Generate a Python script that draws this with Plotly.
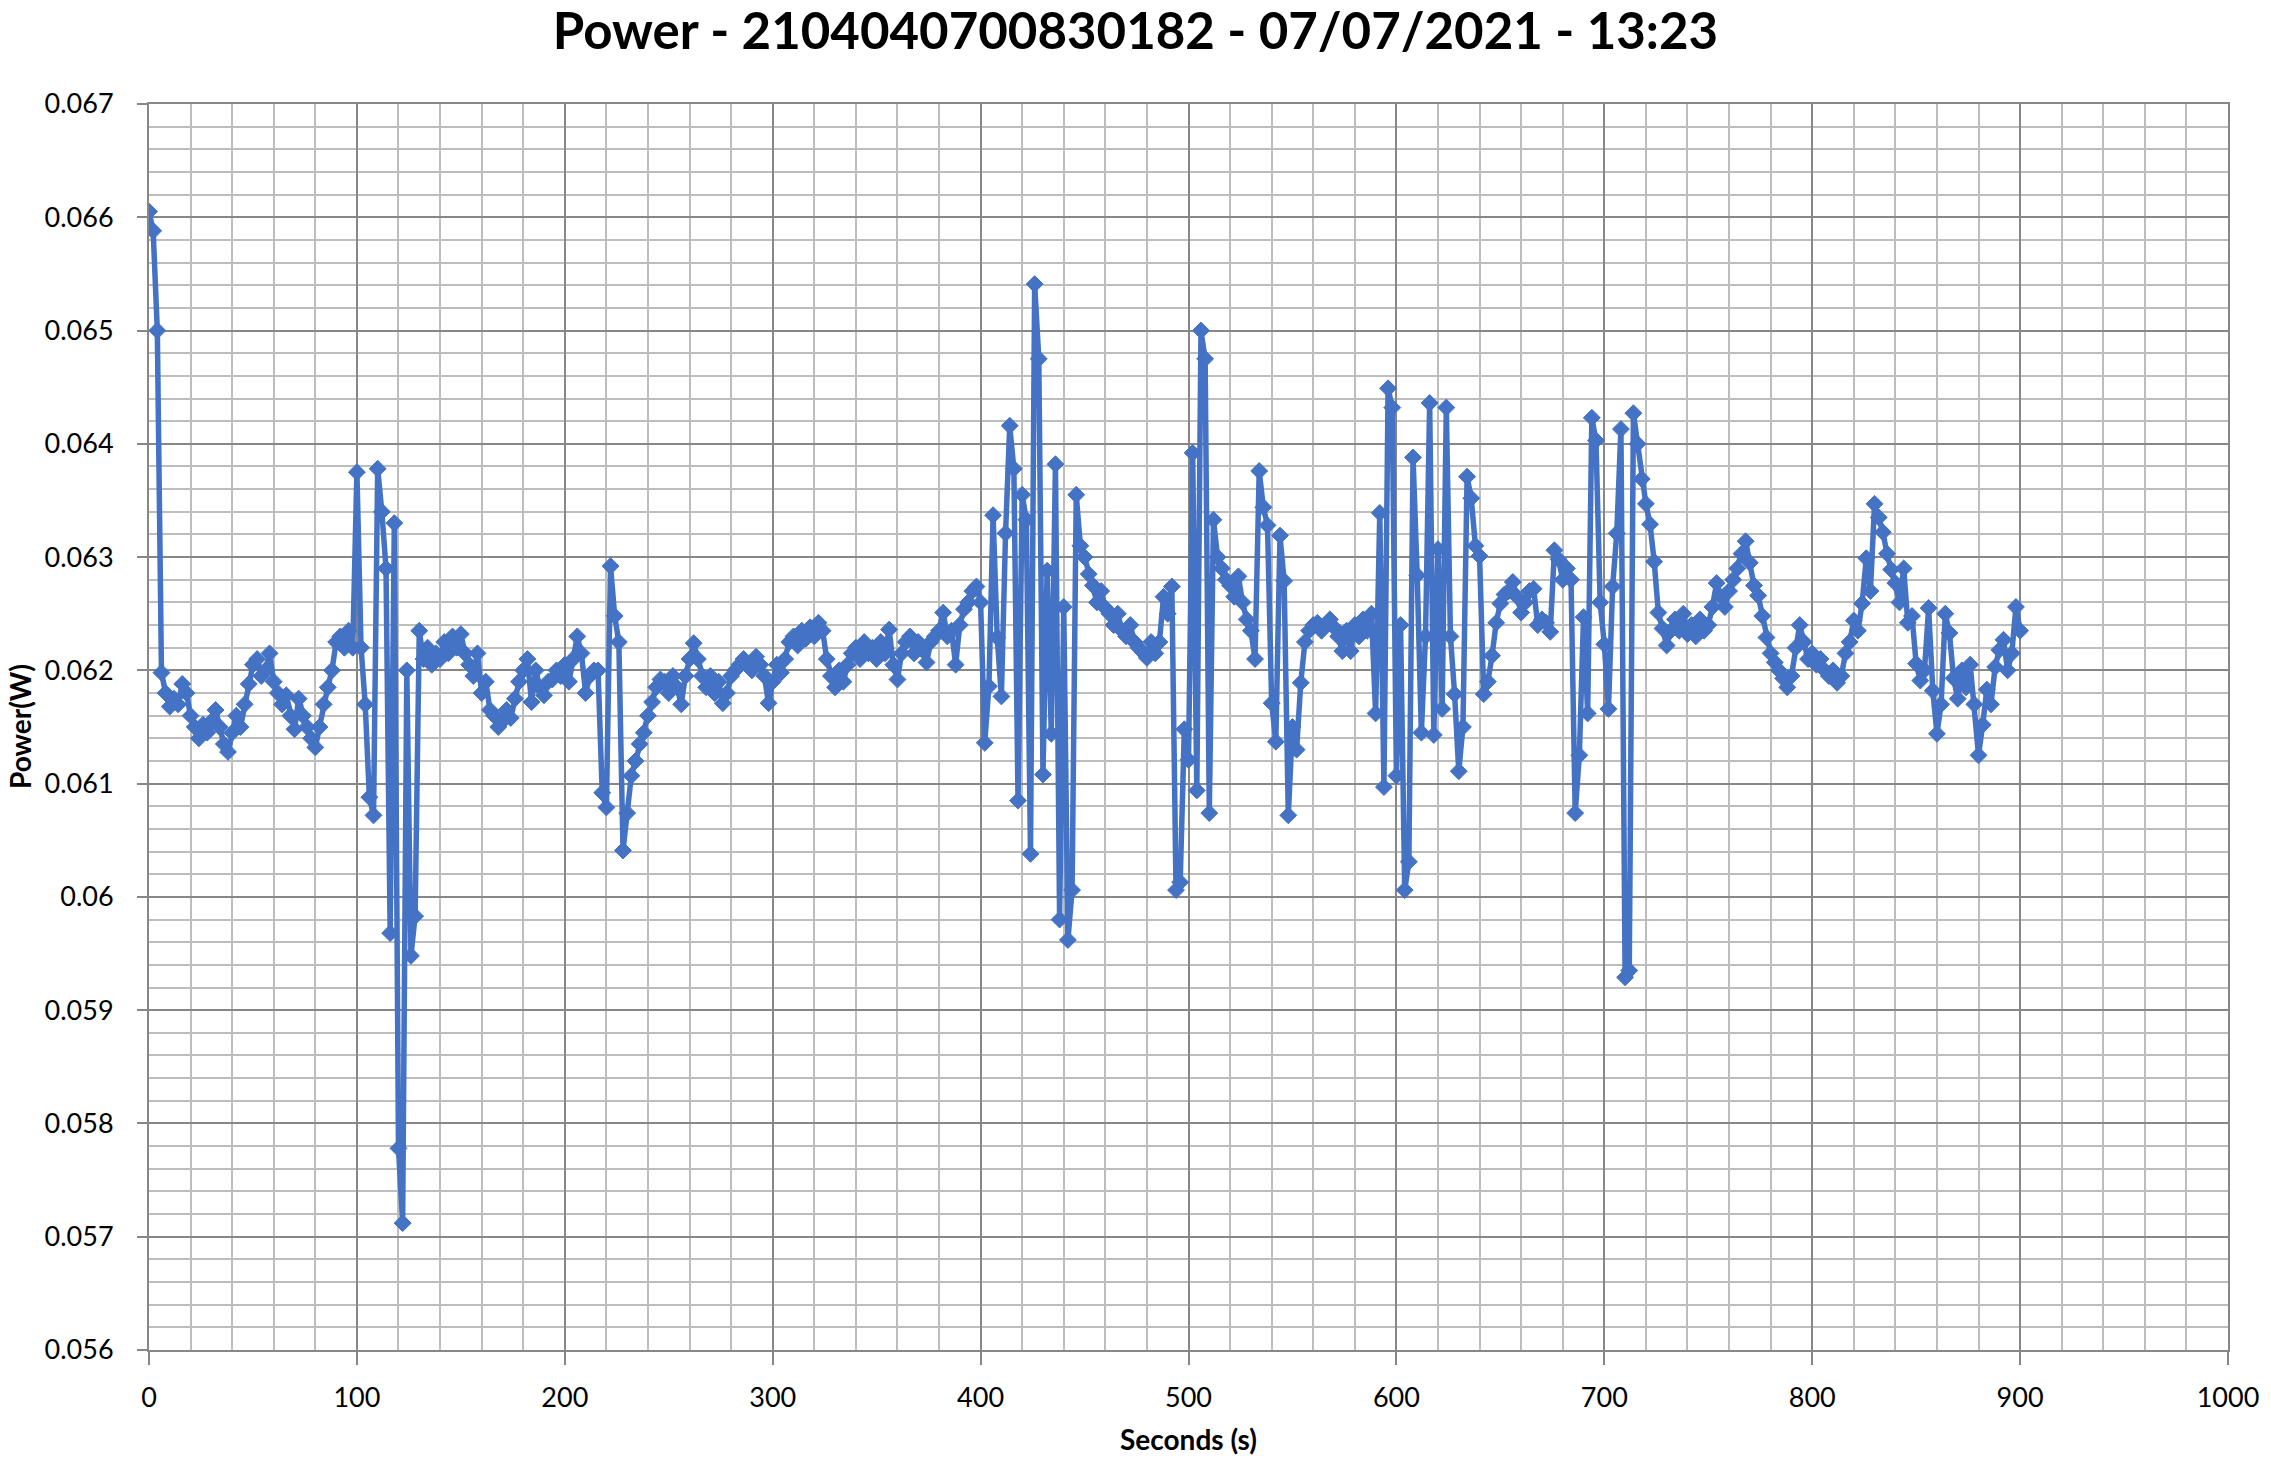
import plotly.graph_objects as go

seconds = list(range(0, 901, 2))

power_w = [
    0.06605, 0.06588, 0.06500, 0.06198, 0.06180, 0.06168, 0.06175, 0.06170, 0.06188, 0.06180,
    0.06160, 0.06150, 0.06140, 0.06152, 0.06145, 0.06155, 0.06165, 0.06150, 0.06135, 0.06128,
    0.06145, 0.06160, 0.06150, 0.06170, 0.06188, 0.06205, 0.06210, 0.06195, 0.06200, 0.06215,
    0.06190, 0.06180, 0.06170, 0.06178, 0.06160, 0.06148, 0.06175, 0.06160, 0.06150, 0.06140,
    0.06132, 0.06150, 0.06170, 0.06185, 0.06200, 0.06225, 0.06230, 0.06220, 0.06235, 0.06220,
    0.06375, 0.06220, 0.06170, 0.06088, 0.06072, 0.06378, 0.06340, 0.06290, 0.05968, 0.06330,
    0.05778, 0.05712, 0.06200, 0.05948, 0.05983, 0.06235, 0.06210, 0.06220, 0.06205, 0.06215,
    0.06210, 0.06225, 0.06215, 0.06230, 0.06220, 0.06232, 0.06215, 0.06205, 0.06195, 0.06215,
    0.06180, 0.06190, 0.06165, 0.06160, 0.06150, 0.06155, 0.06165, 0.06158, 0.06175, 0.06190,
    0.06200, 0.06210, 0.06172, 0.06200, 0.06185, 0.06178, 0.06190, 0.06192, 0.06200, 0.06195,
    0.06205, 0.06190, 0.06210, 0.06230, 0.06215, 0.06180, 0.06195, 0.06200, 0.06200, 0.06092,
    0.06079, 0.06292, 0.06248, 0.06225, 0.06041, 0.06074, 0.06107, 0.06120, 0.06135, 0.06145,
    0.06160, 0.06172, 0.06185, 0.06192, 0.06190, 0.06180, 0.06195, 0.06185, 0.06170, 0.06195,
    0.06210, 0.06224, 0.06210, 0.06195, 0.06185, 0.06195, 0.06180, 0.06190, 0.06171, 0.06180,
    0.06195, 0.06200, 0.06205, 0.06210, 0.06205, 0.06200, 0.06212, 0.06205, 0.06195, 0.06171,
    0.06190, 0.06205, 0.06198, 0.06210, 0.06225, 0.06230, 0.06222, 0.06235, 0.06228, 0.06238,
    0.06230, 0.06242, 0.06235, 0.06210, 0.06195, 0.06185, 0.06200, 0.06190, 0.06205, 0.06215,
    0.06220, 0.06210, 0.06225, 0.06215, 0.06220, 0.06210, 0.06225, 0.06215, 0.06236, 0.06205,
    0.06192, 0.06215, 0.06225, 0.06230, 0.06215, 0.06225, 0.06218, 0.06207, 0.06225, 0.06230,
    0.06235, 0.06251, 0.06230, 0.06235, 0.06205, 0.06240, 0.06254, 0.06260, 0.06270, 0.06274,
    0.06260, 0.06136, 0.06186, 0.06337, 0.06229, 0.06177, 0.06321, 0.06416, 0.06378, 0.06085,
    0.06355, 0.06333, 0.06038, 0.06541, 0.06475, 0.06108, 0.06288, 0.06144, 0.06382, 0.05980,
    0.06256, 0.05962, 0.06006, 0.06355, 0.06310, 0.06300, 0.06285, 0.06275, 0.06260, 0.06270,
    0.06255, 0.06250, 0.06240, 0.06250, 0.06235, 0.06230, 0.06240, 0.06225, 0.06220, 0.06216,
    0.06211, 0.06225, 0.06215, 0.06225, 0.06265, 0.06250, 0.06274, 0.06006, 0.06013, 0.06148,
    0.06121, 0.06392, 0.06094, 0.06500, 0.06475, 0.06074, 0.06333, 0.06300, 0.06290, 0.06280,
    0.06275, 0.06265, 0.06283, 0.06260, 0.06245, 0.06235, 0.06210, 0.06376, 0.06344, 0.06328,
    0.06171, 0.06137, 0.06319, 0.06279, 0.06072, 0.06150, 0.06130, 0.06189, 0.06225, 0.06235,
    0.06240, 0.06242, 0.06235, 0.06240, 0.06245, 0.06238, 0.06230, 0.06217, 0.06235, 0.06217,
    0.06240, 0.06230, 0.06245, 0.06235, 0.06250, 0.06162, 0.06339, 0.06097, 0.06449, 0.06432,
    0.06107, 0.06240, 0.06006, 0.06031, 0.06388, 0.06284, 0.06145, 0.06230, 0.06436, 0.06143,
    0.06307, 0.06166, 0.06432, 0.06230, 0.06179, 0.06111, 0.06150, 0.06371, 0.06352, 0.06310,
    0.06301, 0.06179, 0.06190, 0.06213, 0.06242, 0.06259, 0.06267, 0.06270, 0.06278, 0.06265,
    0.06251, 0.06260, 0.06270, 0.06272, 0.06240, 0.06245, 0.06242, 0.06234, 0.06306, 0.06298,
    0.06280, 0.06290, 0.06280, 0.06074, 0.06125, 0.06247, 0.06162, 0.06423, 0.06403, 0.06260,
    0.06223, 0.06166, 0.06274, 0.06321, 0.06413, 0.05929, 0.05935, 0.06427, 0.06400, 0.06369,
    0.06347, 0.06329, 0.06296, 0.06251, 0.06237, 0.06222, 0.06235, 0.06245, 0.06235, 0.06250,
    0.06232, 0.06240, 0.06230, 0.06245, 0.06235, 0.06240, 0.06256, 0.06277, 0.06265, 0.06256,
    0.06270, 0.06280, 0.06290, 0.06303, 0.06314, 0.06295, 0.06275, 0.06266, 0.06248, 0.06229,
    0.06215, 0.06207, 0.06200, 0.06193, 0.06185, 0.06195, 0.06220, 0.06240, 0.06225, 0.06210,
    0.06215, 0.06205, 0.06210, 0.06200, 0.06195, 0.06200, 0.06189, 0.06195, 0.06215, 0.06225,
    0.06244, 0.06235, 0.06259, 0.06299, 0.06270, 0.06347, 0.06335, 0.06322, 0.06303, 0.06289,
    0.06277, 0.06260, 0.06290, 0.06242, 0.06248, 0.06206, 0.06191, 0.06200, 0.06255, 0.06182,
    0.06144, 0.06170, 0.06250, 0.06233, 0.06193, 0.06175, 0.06200, 0.06185, 0.06205, 0.06170,
    0.06125, 0.06152, 0.06183, 0.06170, 0.06203, 0.06218, 0.06227, 0.06200, 0.06215, 0.06256,
    0.06235,
]

x_tick_values = [0, 100, 200, 300, 400, 500, 600, 700, 800, 900, 1000]
y_tick_values = [0.056, 0.057, 0.058, 0.059, 0.060, 0.061, 0.062,
                 0.063, 0.064, 0.065, 0.066, 0.067]
y_tick_labels = ["0.056", "0.057", "0.058", "0.059", "0.06", "0.061", "0.062",
                 "0.063", "0.064", "0.065", "0.066", "0.067"]

title_text = "Power - 2104040700830182 - 07/07/2021 - 13:23"
x_title = "Seconds (s)"
y_title = "Power(W)"

BLUE = "#4472C4"
MAJOR = "#878787"
MINOR = "#bdbdbd"
FONT = "Lato"

fig = go.Figure(
    go.Scatter(
        x=seconds,
        y=power_w,
        mode="lines+markers",
        line=dict(color=BLUE, width=5.5),
        marker=dict(symbol="diamond", size=13, color=BLUE,
                    line=dict(color=BLUE, width=1)),
        showlegend=False,
    )
)

fig.update_layout(
    width=2271,
    height=1462,
    autosize=False,
    margin=dict(l=149, r=39, t=104, b=112),
    paper_bgcolor="white",
    plot_bgcolor="white",
    title=dict(
        text=title_text,
        font=dict(family=FONT, size=51, color="black", weight="bold"),
        x=0.5, xref="container", xanchor="center",
        y=1 - 31 / 1462, yref="container", yanchor="middle",
    ),
    xaxis=dict(
        range=[0, 1000],
        tickmode="array",
        tickvals=x_tick_values,
        showgrid=True, gridcolor=MAJOR, gridwidth=2,
        minor=dict(tickmode="linear", tick0=0, dtick=20, showgrid=True,
                   gridcolor=MINOR, gridwidth=2, ticks=""),
        ticks="outside", ticklen=13, tickwidth=2, tickcolor=MAJOR,
        showline=True, linecolor=MAJOR, linewidth=2, mirror=True,
        zeroline=False,
        tickfont=dict(family=FONT, size=27, color="black"),
        ticklabelstandoff=10,
    ),
    yaxis=dict(
        range=[0.056, 0.067],
        tickmode="array",
        tickvals=y_tick_values,
        ticktext=y_tick_labels,
        showgrid=True, gridcolor=MAJOR, gridwidth=2,
        minor=dict(tickmode="linear", tick0=0.056, dtick=0.0002, showgrid=True,
                   gridcolor=MINOR, gridwidth=2, ticks=""),
        ticks="outside", ticklen=10, tickwidth=2, tickcolor=MAJOR,
        showline=True, linecolor=MAJOR, linewidth=2, mirror=True,
        zeroline=False,
        tickfont=dict(family=FONT, size=27, color="black"),
        ticklabelstandoff=18,
    ),
    annotations=[
        dict(text=x_title, x=0.5, y=0, xref="paper", yref="paper",
             xanchor="center", yanchor="middle", yshift=-89, showarrow=False,
             font=dict(family=FONT, size=28, color="black", weight="bold")),
        dict(text=y_title, x=0, y=0.5, xref="paper", yref="paper",
             xanchor="center", yanchor="middle", xshift=-129, textangle=-90,
             showarrow=False,
             font=dict(family=FONT, size=28, color="black", weight="bold")),
    ],
)

fig.write_html(
    "out.html",
    config={"displayModeBar": False},
    post_script="document.body.style.margin='0px';document.body.style.overflow='hidden';",
)
